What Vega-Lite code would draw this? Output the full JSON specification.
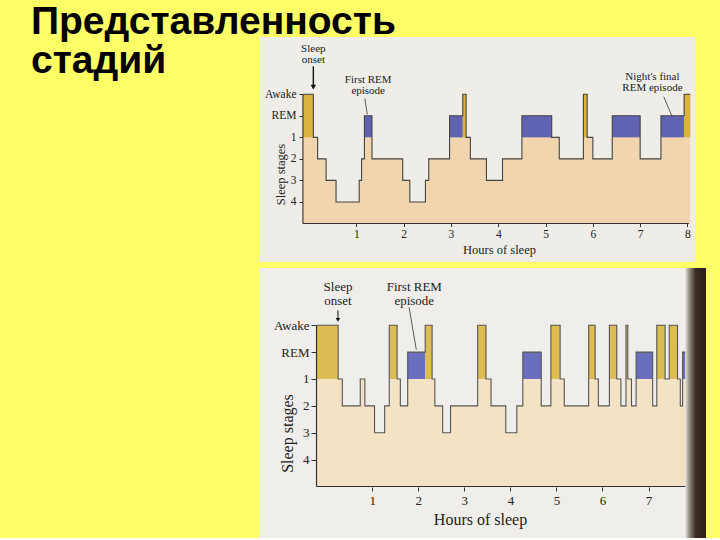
{
  "$schema": "https://vega.github.io/schema/vega-lite/v6.json",
  "background": "#FFFF66",
  "padding": {"left": 31, "top": 3, "right": 15, "bottom": 0},
  "title": {
    "text": ["Представленность", "стадий"],
    "anchor": "start",
    "frame": "group",
    "font": "Liberation Sans",
    "fontSize": 39,
    "fontWeight": "bold",
    "color": "#000000",
    "lineHeight": 39,
    "dx": -228,
    "offset": -44
  },
  "datasets": {
    "top": [
      {"t": -0.13, "depth": -1}, {"t": 0.09, "depth": 1}, {"t": 0.18, "depth": 2},
      {"t": 0.36, "depth": 3}, {"t": 0.57, "depth": 4}, {"t": 1.06, "depth": 3},
      {"t": 1.11, "depth": 2}, {"t": 1.17, "depth": 0}, {"t": 1.33, "depth": 2},
      {"t": 1.98, "depth": 3}, {"t": 2.13, "depth": 4}, {"t": 2.46, "depth": 3},
      {"t": 2.53, "depth": 2}, {"t": 2.97, "depth": 0}, {"t": 3.25, "depth": -1},
      {"t": 3.32, "depth": 1}, {"t": 3.41, "depth": 2}, {"t": 3.75, "depth": 3},
      {"t": 4.09, "depth": 2}, {"t": 4.5, "depth": 0}, {"t": 5.13, "depth": 1},
      {"t": 5.29, "depth": 2}, {"t": 5.8, "depth": -1}, {"t": 5.88, "depth": 1},
      {"t": 6.0, "depth": 2}, {"t": 6.41, "depth": 0}, {"t": 7.0, "depth": 2},
      {"t": 7.44, "depth": 0}, {"t": 7.93, "depth": -1}, {"t": 8.06, "depth": -1}
    ],
    "bottom": [
      {"t": -0.2, "depth": -1}, {"t": 0.26, "depth": 1}, {"t": 0.35, "depth": 2},
      {"t": 0.74, "depth": 1}, {"t": 0.84, "depth": 2}, {"t": 1.05, "depth": 3},
      {"t": 1.27, "depth": 2}, {"t": 1.37, "depth": -1}, {"t": 1.54, "depth": 1},
      {"t": 1.61, "depth": 2}, {"t": 1.77, "depth": 0}, {"t": 2.15, "depth": -1},
      {"t": 2.3, "depth": 1}, {"t": 2.36, "depth": 2}, {"t": 2.53, "depth": 3},
      {"t": 2.7, "depth": 2}, {"t": 3.29, "depth": -1}, {"t": 3.47, "depth": 1},
      {"t": 3.58, "depth": 2}, {"t": 3.9, "depth": 3}, {"t": 4.14, "depth": 2},
      {"t": 4.27, "depth": 0}, {"t": 4.67, "depth": 2}, {"t": 4.88, "depth": -1},
      {"t": 5.08, "depth": 1}, {"t": 5.17, "depth": 2}, {"t": 5.7, "depth": -1},
      {"t": 5.84, "depth": 1}, {"t": 5.91, "depth": 2}, {"t": 6.15, "depth": -1},
      {"t": 6.31, "depth": 1}, {"t": 6.4, "depth": 2}, {"t": 6.51, "depth": -1},
      {"t": 6.55, "depth": 1}, {"t": 6.63, "depth": 2}, {"t": 6.73, "depth": 0},
      {"t": 7.09, "depth": 2}, {"t": 7.18, "depth": -1}, {"t": 7.36, "depth": 1},
      {"t": 7.45, "depth": -1}, {"t": 7.63, "depth": 1}, {"t": 7.69, "depth": 2},
      {"t": 7.74, "depth": 0}, {"t": 7.8, "depth": 0}
    ]
  },
  "spacing": 6,
  "vconcat": [
    {
      "width": 436,
      "height": 225,
      "view": {"fill": "#EEEDE8", "stroke": null},
      "data": {"name": "top"},
      "encoding": {
        "x": {
          "field": "t", "type": "quantitative",
          "scale": {"domain": [-1.059, 8.16], "nice": false, "zero": false},
          "axis": {
            "values": [1, 2, 3, 4, 5, 6, 7, 8], "offset": -38.5, "domain": false, "grid": false,
            "tickSize": 3, "tickColor": "#333333", "labelFont": "Liberation Serif", "labelFontSize": 11.5,
            "labelColor": "#222222", "labelPadding": 2, "title": "Hours of sleep",
            "titleFont": "Liberation Serif", "titleFontSize": 12.5, "titleFontWeight": "normal",
            "titleColor": "#222222", "titlePadding": 3, "titleX": 240
          }
        },
        "y": {
          "field": "depth", "type": "quantitative",
          "scale": {"domain": [-3.66, 6.79], "reverse": true, "nice": false, "zero": false},
          "axis": {
            "values": [-1, 0, 1, 2, 3, 4], "labelExpr": "datum.value == -1 ? 'Awake' : datum.value == 0 ? 'REM' : datum.label",
            "offset": -44, "domain": false, "grid": false, "tickSize": 4, "tickColor": "#333333",
            "labelFont": "Liberation Serif", "labelFontSize": 11.5, "labelColor": "#222222", "labelPadding": 3,
            "title": "Sleep stages", "titleFont": "Liberation Serif", "titleFontSize": 12.5,
            "titleFontWeight": "normal", "titleColor": "#222222", "titleX": -19, "titleY": 137,
            "titleBaseline": "alphabetic"
          }
        }
      },
      "layer": [
        {"mark": {"type": "area", "interpolate": "step-after", "color": "#F1D5AE"}, "encoding": {"y2": {"datum": 5}}},
        {
          "transform": [
            {"window": [{"op": "lead", "field": "t", "as": "t2"}], "sort": [{"field": "t", "order": "ascending"}]},
            {"filter": "datum.depth <= 0 && isValid(datum.t2)"}
          ],
          "mark": {"type": "rect"},
          "encoding": {
            "x2": {"field": "t2"},
            "y2": {"datum": 1},
            "color": {"condition": {"test": "datum.depth < 0", "value": "#DAB23C"}, "value": "#6062B2"}
          }
        },
        {"mark": {"type": "line", "interpolate": "step-after", "color": "#444444", "strokeWidth": 1.1}},
        {
          "data": {"values": [
            {"t": -0.13, "t2": -0.13, "depth": -1, "depth2": 5},
            {"t": -0.13, "t2": 8.03, "depth": 5, "depth2": 5}
          ]},
          "mark": {"type": "rule", "color": "#333333", "strokeWidth": 1.1},
          "encoding": {"x2": {"field": "t2"}, "y2": {"field": "depth2"}}
        },
        {
          "data": {"values": [
            {"t": 1.18, "t2": 1.23, "depth": -0.8, "depth2": -0.07},
            {"t": 7.5, "t2": 7.68, "depth": -0.88, "depth2": 0.05}
          ]},
          "mark": {"type": "rule", "color": "#333333", "strokeWidth": 0.8},
          "encoding": {"x2": {"field": "t2"}, "y2": {"field": "depth2"}}
        },
        {
          "data": {"values": [{"t": 0.09, "t2": 0.09, "depth": -2.3, "depth2": -1.4}]},
          "mark": {"type": "rule", "color": "#111111", "strokeWidth": 1.4},
          "encoding": {"x2": {"field": "t2"}, "y2": {"field": "depth2"}}
        },
        {
          "data": {"values": [{"t": 0.09, "depth": -1.33}]},
          "mark": {"type": "point", "shape": "triangle-down", "filled": true, "color": "#111111", "opacity": 1, "size": 30}
        },
        {
          "data": {"values": [
            {"t": 0.09, "depth": -3.12, "label": ["Sleep", "onset"]},
            {"t": 1.25, "depth": -1.68, "label": ["First REM", "episode"]},
            {"t": 7.26, "depth": -1.8, "label": ["Night's final", "REM episode"]}
          ]},
          "mark": {"type": "text", "align": "center", "baseline": "middle", "lineHeight": 11, "fontSize": 11, "font": "Liberation Serif", "color": "#222222"},
          "encoding": {"text": {"field": "label"}}
        }
      ]
    },
    {
      "width": 447,
      "height": 270,
      "view": {"fill": "#EFEEEA", "stroke": null},
      "data": {"name": "bottom"},
      "encoding": {
        "x": {
          "field": "t", "type": "quantitative",
          "scale": {"domain": [-1.459, 8.248], "nice": false, "zero": false},
          "axis": {
            "values": [1, 2, 3, 4, 5, 6, 7, 8], "offset": -51, "domain": false, "grid": false,
            "tickSize": 4, "tickColor": "#333333", "labelFont": "Liberation Serif", "labelFontSize": 13,
            "labelColor": "#222222", "labelPadding": 3, "title": "Hours of sleep",
            "titleFont": "Liberation Serif", "titleFontSize": 16, "titleFontWeight": "normal",
            "titleColor": "#222222", "titlePadding": 4, "titleX": 221
          }
        },
        "y": {
          "field": "depth", "type": "quantitative",
          "scale": {"domain": [-3.13, 6.916], "reverse": true, "nice": false, "zero": false},
          "axis": {
            "values": [-1, 0, 1, 2, 3, 4], "labelExpr": "datum.value == -1 ? 'Awake' : datum.value == 0 ? 'REM' : datum.label",
            "offset": -57, "domain": false, "grid": false, "tickSize": 5, "tickColor": "#333333",
            "labelFont": "Liberation Serif", "labelFontSize": 13, "labelColor": "#222222", "labelPadding": 2,
            "title": "Sleep stages", "titleFont": "Liberation Serif", "titleFontSize": 16,
            "titleFontWeight": "normal", "titleColor": "#222222", "titleX": -24, "titleY": 165,
            "titleBaseline": "alphabetic"
          }
        }
      },
      "layer": [
        {"mark": {"type": "area", "interpolate": "step-after", "color": "#F4E2C4"}, "encoding": {"y2": {"datum": 5}}},
        {
          "transform": [
            {"window": [{"op": "lead", "field": "t", "as": "t2"}], "sort": [{"field": "t", "order": "ascending"}]},
            {"filter": "datum.depth <= 0 && isValid(datum.t2)"}
          ],
          "mark": {"type": "rect"},
          "encoding": {
            "x2": {"field": "t2"},
            "y2": {"datum": 1},
            "color": {"condition": {"test": "datum.depth < 0", "value": "#DDBD52"}, "value": "#6A6EBE"}
          }
        },
        {"mark": {"type": "line", "interpolate": "step-after", "color": "#555555", "strokeWidth": 1.1}},
        {
          "data": {"values": [
            {"t": -0.21, "t2": -0.21, "depth": -1, "depth2": 5},
            {"t": -0.21, "t2": 7.84, "depth": 5, "depth2": 5}
          ]},
          "mark": {"type": "rule", "color": "#333333", "strokeWidth": 1.2},
          "encoding": {"x2": {"field": "t2"}, "y2": {"field": "depth2"}}
        },
        {
          "data": {"values": [{"t": 1.8, "t2": 1.957, "depth": -1.67, "depth2": -0.09}]},
          "mark": {"type": "rule", "color": "#333333", "strokeWidth": 0.8},
          "encoding": {"x2": {"field": "t2"}, "y2": {"field": "depth2"}}
        },
        {
          "data": {"values": [{"t": 0.256, "t2": 0.256, "depth": -1.55, "depth2": -1.25}]},
          "mark": {"type": "rule", "color": "#111111", "strokeWidth": 1},
          "encoding": {"x2": {"field": "t2"}, "y2": {"field": "depth2"}}
        },
        {
          "data": {"values": [{"t": 0.256, "depth": -1.2}]},
          "mark": {"type": "point", "shape": "triangle-down", "filled": true, "color": "#111111", "opacity": 1, "size": 20}
        },
        {
          "data": {"values": [
            {"t": 0.256, "depth": -2.41, "label": ["Sleep", "onset"]},
            {"t": 1.913, "depth": -2.41, "label": ["First REM", "episode"]}
          ]},
          "mark": {"type": "text", "align": "center", "baseline": "middle", "lineHeight": 14, "fontSize": 13, "font": "Liberation Serif", "color": "#222222"},
          "encoding": {"text": {"field": "label"}}
        },
        {
          "transform": [{"aggregate": [{"op": "max", "field": "t", "as": "tEnd"}]}],
          "mark": {
            "type": "rect",
            "fill": {"gradient": "linear", "x1": 0, "y1": 0, "x2": 1, "y2": 0,
              "stops": [{"offset": 0, "color": "#E2DFD8"}, {"offset": 0.22, "color": "#8A827B"}, {"offset": 0.5, "color": "#3B2C25"}, {"offset": 1, "color": "#2C1F19"}]}
          },
          "encoding": {"x": {"field": "tEnd", "type": "quantitative"}, "x2": {"datum": 8.248}, "y": null}
        }
      ]
    }
  ],
  "config": {"view": {"stroke": null}, "font": "Liberation Serif"}
}
